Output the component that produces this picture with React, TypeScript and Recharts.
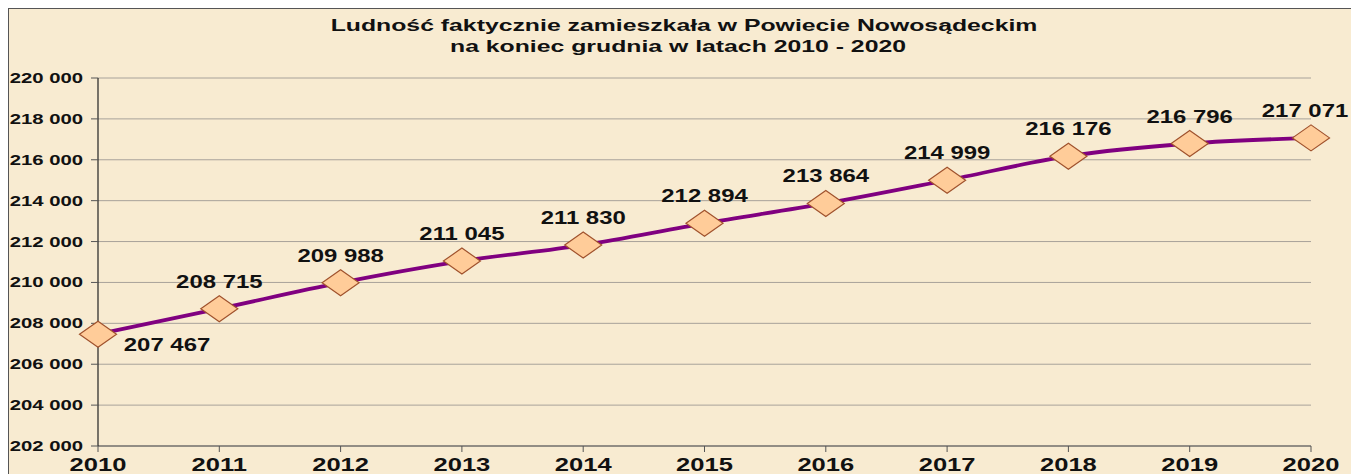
import React from 'react';
import { LineChart, Line, XAxis, YAxis, CartesianGrid, LabelList } from 'recharts';

const years: number[] = [2010, 2011, 2012, 2013, 2014, 2015, 2016, 2017, 2018, 2019, 2020];
const population: number[] = [207467, 208715, 209988, 211045, 211830, 212894, 213864, 214999, 216176, 216796, 217071];
const yTicks: number[] = [202000, 204000, 206000, 208000, 210000, 212000, 214000, 216000, 218000, 220000];
const titleLines: string[] = [
  'Ludność faktycznie zamieszkała w Powiecie Nowosądeckim',
  'na koniec grudnia w latach 2010 - 2020',
];

const data = years.map((y, i) => ({ year: String(y), value: population[i] }));

const fmt = (v: number) => {
  const s = String(Math.round(v));
  return s.replace(/\B(?=(\d{3})+(?!\d))/g, ' ');
};

const FONT = '"Liberation Sans", Arial, sans-serif';

const YTick = (props: any) => {
  const { x, y, payload } = props;
  return (
    <g transform={`translate(${x},${y}) scale(1.45,1)`}>
      <text x={0} y={0} dy="0.36em" textAnchor="end" fontFamily={FONT} fontWeight="bold" fontSize={14} fill="#111">
        {fmt(payload.value)}
      </text>
    </g>
  );
};

const XTick = (props: any) => {
  const { x, y, payload } = props;
  return (
    <g transform={`translate(${x},${y}) scale(1.38,1)`}>
      <text x={0} y={0} dy={17} textAnchor="middle" fontFamily={FONT} fontWeight="bold" fontSize={18.5} fill="#111">
        {payload.value}
      </text>
    </g>
  );
};

const Diamond = (props: any) => {
  const { cx, cy, index } = props;
  if (cx == null || cy == null) return <g key={`d-${index}`} />;
  const w = 18.5;
  const h = 13;
  return (
    <polygon
      key={`d-${index}`}
      points={`${cx - w},${cy} ${cx},${cy - h} ${cx + w},${cy} ${cx},${cy + h}`}
      fill="#FFCC99"
      stroke="#A0522D"
      strokeWidth={1.2}
    />
  );
};

const ValueLabel = (props: any) => {
  const { x, y, value, index } = props;
  const below = index === 0;
  const last = index === population.length - 1;
  const lx = below ? x + 69 : last ? x - 6 : x;
  const ly = below ? y + 17 : y - 21;
  return (
    <g transform={`translate(${lx},${ly}) scale(1.33,1)`}>
      <text x={0} y={0} textAnchor="middle" fontFamily={FONT} fontWeight="bold" fontSize={18} fill="#111">
        {fmt(value)}
      </text>
    </g>
  );
};

export default function App() {
  return (
    <div style={{ position: 'relative', width: 1351, height: 466, background: '#F8EBD1', boxShadow: 'inset 1px 1px 0 #555', overflow: 'hidden' }}>
      <svg width={1351} height={60} style={{ position: 'absolute', left: 0, top: 0 }}>
        <g transform="translate(676,23) scale(1.55,1)">
          <text x={0} y={0} textAnchor="middle" fontFamily={FONT} fontWeight="bold" fontSize={16} fill="#111">{titleLines[0]}</text>
        </g>
        <g transform="translate(670,44) scale(1.55,1)">
          <text x={0} y={0} textAnchor="middle" fontFamily={FONT} fontWeight="bold" fontSize={16} fill="#111">{titleLines[1]}</text>
        </g>
      </svg>
      <div style={{ position: 'absolute', left: 0, top: 0 }}>
        <LineChart width={1351} height={466} data={data} margin={{ top: 70, right: 48, bottom: 0, left: 0 }}>
          <CartesianGrid vertical={false} stroke="#A8A29A" strokeWidth={1} />
          <XAxis
            dataKey="year"
            height={28}
            tick={<XTick />}
            tickSize={6}
            tickMargin={2}
            stroke="#555"
            axisLine={{ stroke: '#555', strokeWidth: 1.2 }}
            tickLine={{ stroke: '#555' }}
            interval={0}
          />
          <YAxis
            domain={[202000, 220000]}
            ticks={yTicks}
            width={90}
            tick={<YTick />}
            tickSize={7}
            tickMargin={8}
            axisLine={{ stroke: '#222', strokeWidth: 1.2 }}
            tickLine={{ stroke: '#555' }}
            interval={0}
          />
          <Line
            type="monotone"
            dataKey="value"
            stroke="#800080"
            strokeWidth={3.8}
            dot={Diamond}
            activeDot={false}
            isAnimationActive={false}
          >
            <LabelList dataKey="value" content={ValueLabel} />
          </Line>
        </LineChart>
      </div>
    </div>
  );
}
